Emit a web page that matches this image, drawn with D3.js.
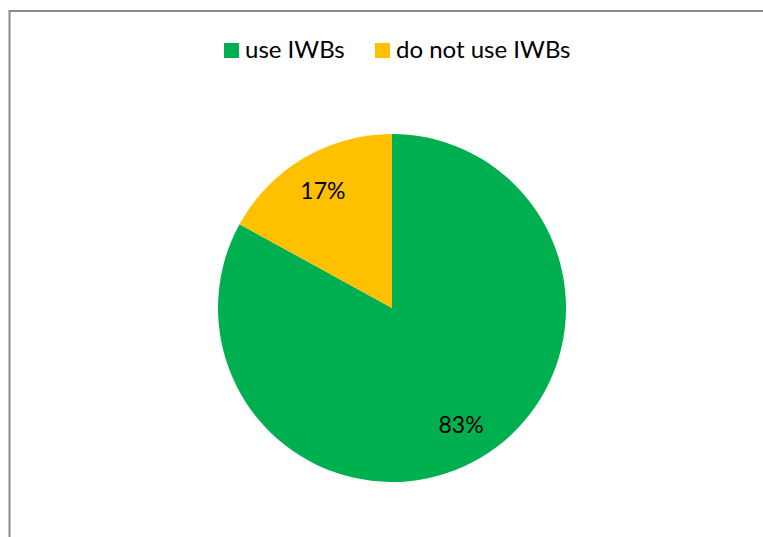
<!DOCTYPE html>
<html>
<head>
  <meta charset="utf-8">
  <script src="https://d3js.org/d3.v7.min.js"></script>
  <style>
    body { margin: 0; background: #fff; }
    text { font-family: "Lato", "Open Sans", sans-serif; fill: #000; }
  </style>
</head>
<body>
<script>
  // chart data
  var categories = ["use IWBs", "do not use IWBs"];
  var values = [83, 17];
  var colors = ["#00B050", "#FFC000"];

  var width = 763, height = 537;
  var cx = 392, cy = 308, radius = 174;

  var svg = d3.select("body").append("svg")
      .attr("width", width)
      .attr("height", height);

  // chart area border (runs off the right and bottom)
  svg.append("rect")
      .attr("x", 9.5).attr("y", 11)
      .attr("width", 800).attr("height", 600)
      .attr("fill", "none")
      .attr("stroke", "#8a8a8a")
      .attr("stroke-width", 2);

  var pie = d3.pie().sort(null).value(function(d) { return d; });
  var arc = d3.arc().innerRadius(0).outerRadius(radius);
  var labelArc = d3.arc().innerRadius(radius * 0.78).outerRadius(radius * 0.78);

  var g = svg.append("g").attr("transform", "translate(" + cx + "," + cy + ")");
  var slices = pie(values);

  g.selectAll("path").data(slices).enter().append("path")
      .attr("d", arc)
      .attr("fill", function(d, i) { return colors[i]; });

  g.selectAll("text.lbl").data(slices).enter().append("text")
      .attr("class", "lbl")
      .attr("transform", function(d) { return "translate(" + labelArc.centroid(d) + ")"; })
      .attr("text-anchor", "middle")
      .attr("dy", "0.35em")
      .style("font-size", "23px")
      .text(function(d) { return d.data + "%"; });

  // legend
  var legendX = [224, 375];
  var legend = svg.selectAll("g.legend").data(categories).enter().append("g")
      .attr("class", "legend")
      .attr("transform", function(d, i) { return "translate(" + legendX[i] + ",43)"; });
  legend.append("rect")
      .attr("width", 15).attr("height", 15)
      .attr("fill", function(d, i) { return colors[i]; });
  legend.append("text")
      .attr("x", 21).attr("y", 15)
      .style("font-size", "24px")
      .text(function(d) { return d; });
</script>
</body>
</html>
